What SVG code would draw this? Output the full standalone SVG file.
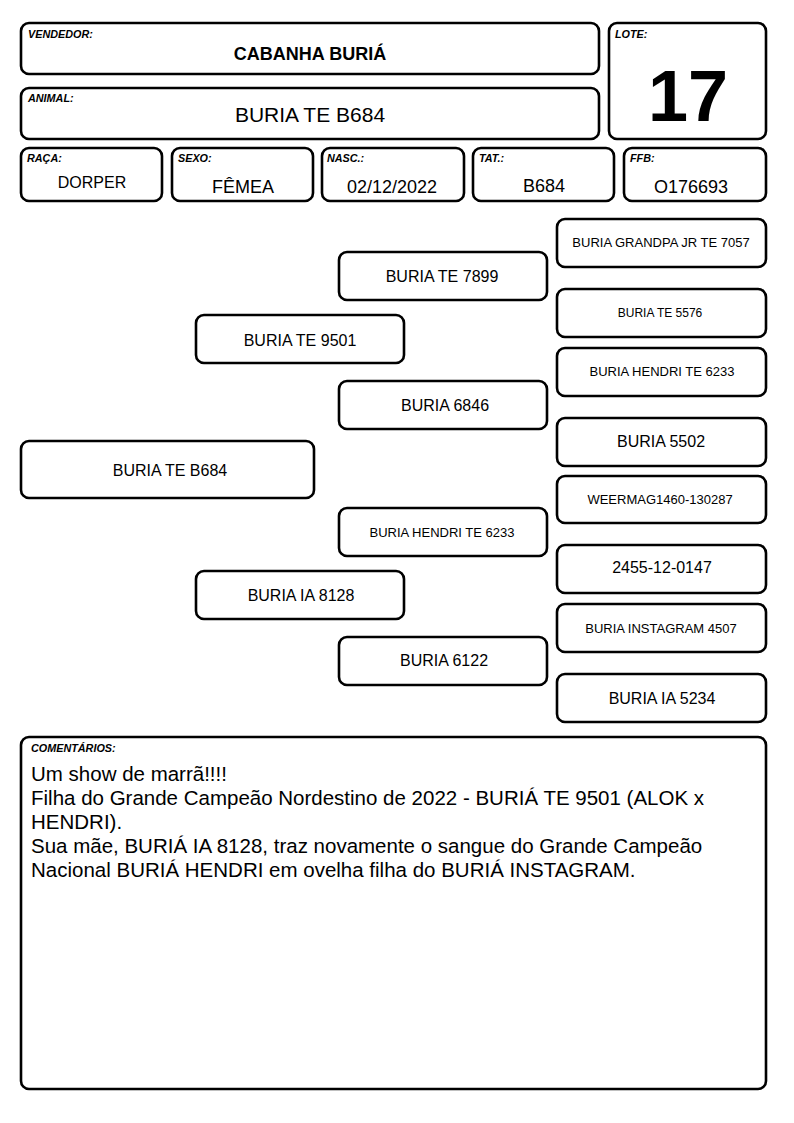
<svg xmlns="http://www.w3.org/2000/svg" width="794" height="1123" viewBox="0 0 794 1123">
<style>
.b{fill:#fff;stroke:#000;stroke-width:2.6}
.lb{font-family:"Liberation Sans",Arial,sans-serif;font-size:10.8px;font-weight:bold;font-style:italic}
.t{font-family:"Liberation Sans",Arial,sans-serif;text-anchor:middle;fill:#000}
.p{font-size:16px}
.s{font-size:13px}
.v{font-size:18px}
.c{font-family:"Liberation Sans",Arial,sans-serif;font-size:20.5px}
</style>
<rect width="794" height="1123" fill="#fff"/>
<g id="vendedor"><rect class="b" x="21" y="23" width="578" height="51" rx="8"/><text class="lb" x="28" y="38">VENDEDOR:</text><text class="t" x="310" y="60" font-size="18" font-weight="bold">CABANHA BURIÁ</text></g>
<g id="animal"><rect class="b" x="21" y="88" width="578" height="51" rx="8"/><text class="lb" x="28" y="102">ANIMAL:</text><text class="t" x="310" y="122" font-size="21">BURIA TE B684</text></g>
<g id="lote"><rect class="b" x="609" y="23" width="157" height="116" rx="8"/><text class="lb" x="615" y="38">LOTE:</text><text class="t" x="688" y="121" font-size="72" font-weight="bold">17</text></g>
<g id="raca"><rect class="b" x="21" y="148" width="141" height="53" rx="8"/><text class="lb" x="27" y="162">RAÇA:</text><text class="t" x="92" y="188" font-size="16">DORPER</text></g>
<g id="sexo"><rect class="b" x="172" y="148" width="141" height="53" rx="8"/><text class="lb" x="178" y="162">SEXO:</text><text class="t v" x="243" y="193">FÊMEA</text></g>
<g id="nasc"><rect class="b" x="322" y="148" width="142" height="53" rx="8"/><text class="lb" x="327" y="162">NASC.:</text><text class="t v" x="392" y="193">02/12/2022</text></g>
<g id="tat"><rect class="b" x="473" y="148" width="141" height="53" rx="8"/><text class="lb" x="479" y="162">TAT.:</text><text class="t v" x="544" y="192">B684</text></g>
<g id="ffb"><rect class="b" x="624" y="148" width="142" height="53" rx="8"/><text class="lb" x="630" y="162">FFB:</text><text class="t v" x="691" y="193">O176693</text></g>
<g id="ped-animal"><rect class="b" x="21" y="441" width="293" height="57" rx="8"/><text class="t p" x="170" y="476">BURIA TE B684</text></g>
<g id="ped-pai"><rect class="b" x="196" y="315" width="208" height="48" rx="8"/><text class="t p" x="300" y="346">BURIA TE 9501</text></g>
<g id="ped-mae"><rect class="b" x="196" y="571" width="208" height="48" rx="8"/><text class="t p" x="301" y="601">BURIA IA 8128</text></g>
<g id="ped-avo1"><rect class="b" x="339" y="252" width="208" height="48" rx="8"/><text class="t p" x="442" y="282">BURIA TE 7899</text></g>
<g id="ped-avo2"><rect class="b" x="339" y="381" width="208" height="48" rx="8"/><text class="t p" x="445" y="411">BURIA 6846</text></g>
<g id="ped-avo3"><rect class="b" x="339" y="508" width="208" height="48" rx="8"/><text class="t s" x="442" y="537">BURIA HENDRI TE 6233</text></g>
<g id="ped-avo4"><rect class="b" x="339" y="637" width="208" height="48" rx="8"/><text class="t p" x="444" y="666">BURIA 6122</text></g>
<g id="ped-b1"><rect class="b" x="557" y="219" width="209" height="48" rx="8"/><text class="t s" x="661" y="247">BURIA GRANDPA JR TE 7057</text></g>
<g id="ped-b2"><rect class="b" x="557" y="289" width="209" height="48" rx="8"/><text class="t" x="660" y="317" font-size="12">BURIA TE 5576</text></g>
<g id="ped-b3"><rect class="b" x="557" y="348" width="209" height="48" rx="8"/><text class="t s" x="662" y="376">BURIA HENDRI TE 6233</text></g>
<g id="ped-b4"><rect class="b" x="557" y="418" width="209" height="48" rx="8"/><text class="t p" x="661" y="447">BURIA 5502</text></g>
<g id="ped-b5"><rect class="b" x="557" y="476" width="209" height="47" rx="8"/><text class="t s" x="660" y="504">WEERMAG1460-130287</text></g>
<g id="ped-b6"><rect class="b" x="557" y="545" width="209" height="48" rx="8"/><text class="t p" x="662" y="573">2455-12-0147</text></g>
<g id="ped-b7"><rect class="b" x="557" y="604" width="209" height="48" rx="8"/><text class="t s" x="661" y="633">BURIA INSTAGRAM 4507</text></g>
<g id="ped-b8"><rect class="b" x="557" y="674" width="209" height="48" rx="8"/><text class="t p" x="662" y="704">BURIA IA 5234</text></g>
<g id="connectors"></g>
<g id="comentarios"><rect class="b" x="21" y="737" width="745" height="352" rx="8"/><text class="lb" x="31" y="752">COMENTÁRIOS:</text>
<text class="c" x="31" y="781">Um show de marrã!!!!</text>
<text class="c" x="31" y="805">Filha do Grande Campeão Nordestino de 2022 - BURIÁ TE 9501 (ALOK x</text>
<text class="c" x="31" y="829">HENDRI).</text>
<text class="c" x="31" y="853">Sua mãe, BURIÁ IA 8128, traz novamente o sangue do Grande Campeão</text>
<text class="c" x="31" y="877">Nacional BURIÁ HENDRI em ovelha filha do BURIÁ INSTAGRAM.</text>
</g>
</svg>
